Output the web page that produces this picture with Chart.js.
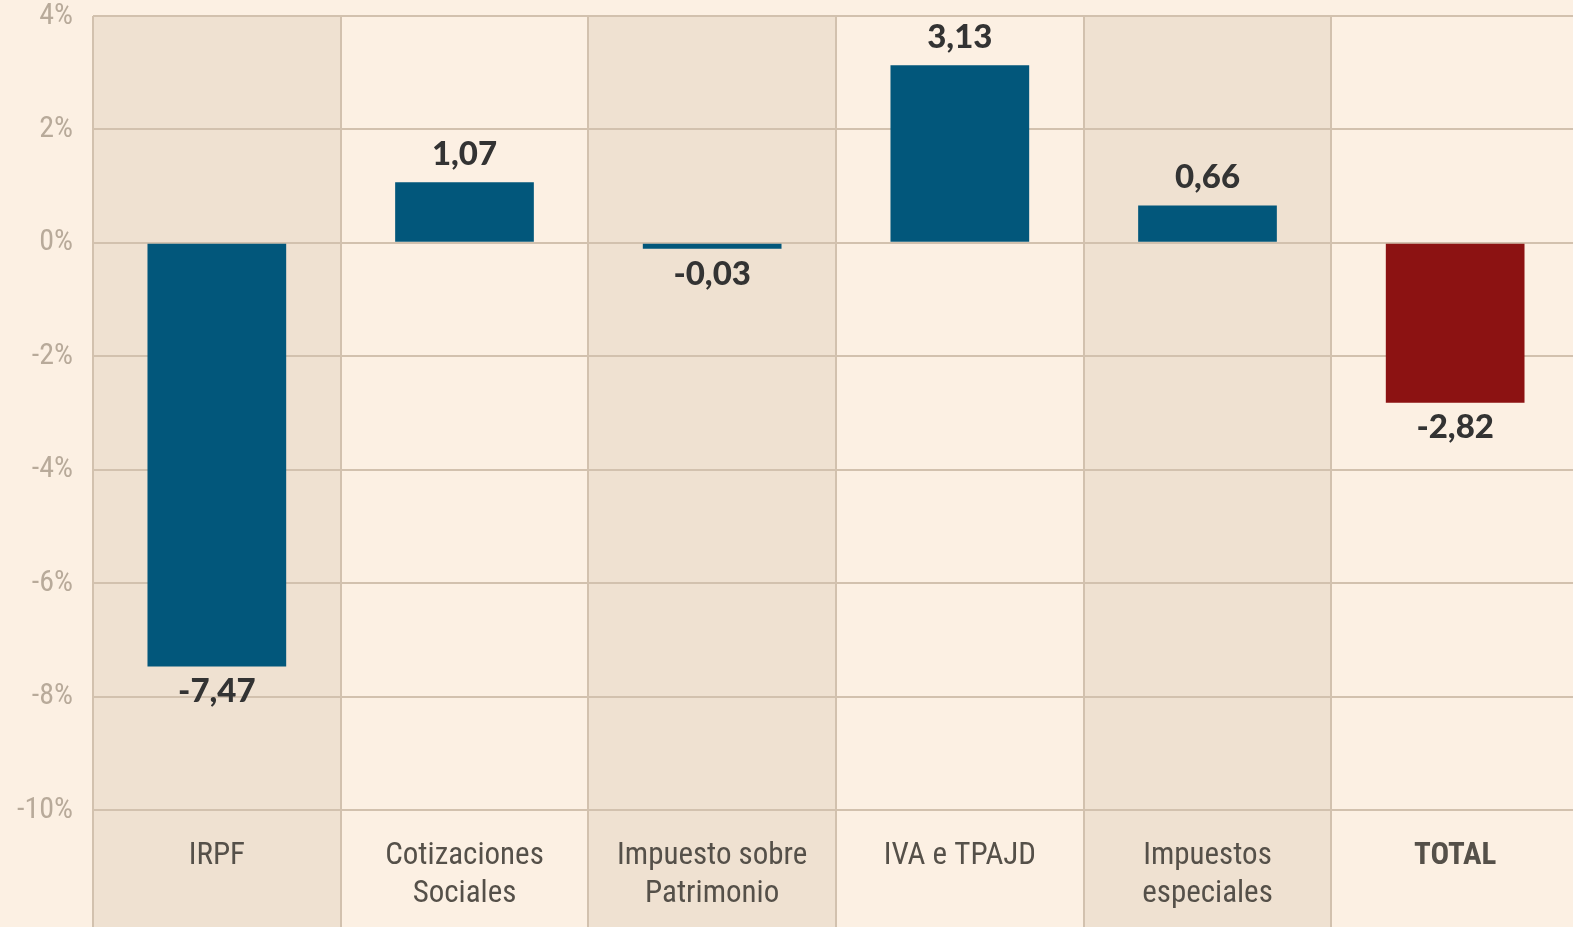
<!DOCTYPE html>
<html>
<head>
<meta charset="utf-8">
<script src="https://cdn.jsdelivr.net/npm/chart.js@4/dist/chart.umd.min.js"></script>
<style>
  html, body { margin: 0; padding: 0; background: #fcf0e3; overflow: hidden; }
  #marco { width: 1573px; height: 927px; position: relative; overflow: hidden; }
  #wrap { width: 1579px; height: 949px; position: absolute; left: 0; top: -22px; }
</style>
</head>
<body>
<div id="marco"><div id="wrap"><canvas id="grafico"></canvas></div></div>
<script>
// ---- datos ----
const categorias = [
  "IRPF",
  ["Cotizaciones", "Sociales"],
  ["Impuesto sobre", "Patrimonio"],
  "IVA e TPAJD",
  ["Impuestos", "especiales"],
  "TOTAL"
];
const valores = [-7.47, 1.07, -0.03, 3.13, 0.66, -2.82];
const colores = ["#02577b", "#02577b", "#02577b", "#02577b", "#02577b", "#8c1212"];
const sombreadas = [0, 2, 4]; // columnas con fondo más oscuro
const ticksY = [4, 2, 0, -2, -4, -6, -8, -10];

const FUENTE_NARROW = '"Liberation Sans Narrow", "Roboto Condensed", Roboto, sans-serif';
const COLOR_GRID = "#d2c1ae";

function formatoComa(v) {
  return v.toFixed(2).replace(".", ",");
}

// fondo de columnas + líneas verticales hasta el borde inferior
const columnasPlugin = {
  id: "columnas",
  beforeDraw(chart) {
    const { ctx, chartArea, scales } = chart;
    const x = scales.x;
    const ancho = x.getPixelForValue(1) - x.getPixelForValue(0);
    ctx.save();
    ctx.fillStyle = "#fcf0e3";
    ctx.fillRect(0, 0, chart.width, chart.height);
    ctx.fillStyle = "#efe1d1";
    sombreadas.forEach(i => {
      const cx = x.getPixelForValue(i);
      ctx.fillRect(cx - ancho / 2, chartArea.top, ancho, chart.height - chartArea.top);
    });
    ctx.restore();
  },
  afterDraw(chart) {
    const { ctx, chartArea, scales } = chart;
    const x = scales.x;
    const ancho = x.getPixelForValue(1) - x.getPixelForValue(0);
    ctx.save();
    ctx.strokeStyle = COLOR_GRID;
    ctx.lineWidth = 2;
    for (let i = 0; i <= categorias.length; i++) {
      const px = Math.round(x.getPixelForValue(0) - ancho / 2 + i * ancho);
      ctx.beginPath();
      ctx.moveTo(px, chartArea.top);
      ctx.lineTo(px, chart.height);
      ctx.stroke();
    }
    ctx.restore();
  }
};

// etiquetas de valor sobre/bajo cada barra
const etiquetasPlugin = {
  id: "etiquetas",
  afterDatasetsDraw(chart) {
    const { ctx } = chart;
    const meta = chart.getDatasetMeta(0);
    ctx.save();
    ctx.font = "900 33px Lato, 'Open Sans', sans-serif";
    ctx.fillStyle = "#333333";
    ctx.textAlign = "center";
    ctx.textBaseline = "middle";
    meta.data.forEach((bar, i) => {
      const v = valores[i];
      if (v >= 0) {
        ctx.fillText(formatoComa(v), bar.x, bar.y - 28);
      } else {
        ctx.fillText(formatoComa(v), bar.x, Math.max(bar.y, bar.base + 6) + 25);
      }
    });
    ctx.restore();
  }
};

new Chart(document.getElementById("grafico"), {
  type: "bar",
  data: {
    labels: categorias,
    datasets: [{
      data: valores,
      backgroundColor: colores,
      barPercentage: 0.56,
      categoryPercentage: 1,
      minBarLength: 6
    }]
  },
  options: {
    responsive: true,
    maintainAspectRatio: false,
    animation: false,
    layout: { padding: 0 },
    plugins: {
      legend: { display: false },
      tooltip: { enabled: false }
    },
    scales: {
      x: {
        grid: { display: false },
        border: { display: false },
        ticks: {
          padding: 20,
          color: "#555049",
          font: ctx => ({
            family: FUENTE_NARROW,
            size: 31,
            lineHeight: 1.2,
            weight: ctx.index === 5 ? "bold" : "normal"
          })
        },
        afterFit(scale) { scale.height = 117; }
      },
      y: {
        min: -10,
        max: 4,
        afterBuildTicks(scale) {
          scale.ticks = ticksY.map(v => ({ value: v }));
        },
        grid: { color: COLOR_GRID, lineWidth: 2, drawTicks: false },
        border: { display: false },
        ticks: {
          padding: 20,
          color: "#b8aa9a",
          font: { family: FUENTE_NARROW, size: 30 },
          callback: v => v + "%"
        },
        afterFit(scale) { scale.width = 93; }
      }
    }
  },
  plugins: [columnasPlugin, etiquetasPlugin]
});
</script>
</body>
</html>
